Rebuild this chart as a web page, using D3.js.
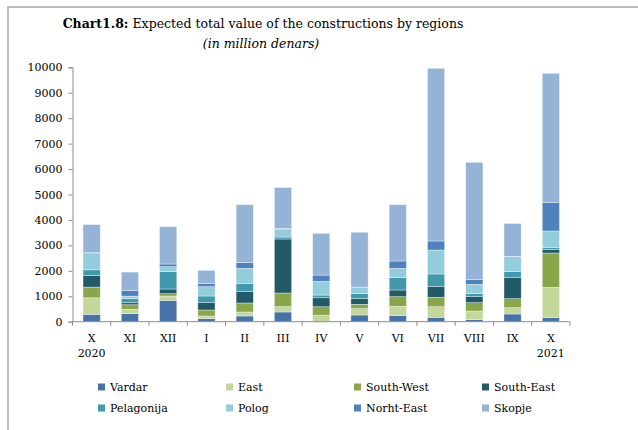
<!DOCTYPE html>
<html>
<meta charset="utf-8">
<style>
  body { margin: 0; background: #fff; }
  text { font-family: "DejaVu Serif", serif; fill: #000; }
</style>
<body>
<script src="https://cdn.jsdelivr.net/npm/d3@7"></script>
<script>
// months on the x axis (year shown under first and last)
var months = ["X", "XI", "XII", "I", "II", "III", "IV", "V", "VI", "VII", "VIII", "IX", "X"];
var years = ["2020", "", "", "", "", "", "", "", "", "", "", "", "2021"];
var regions = ["Vardar", "East", "South-West", "South-East", "Pelagonija", "Polog", "Norht-East", "Skopje"];
var colors = ["#4672a8", "#c4d79b", "#8aa64b", "#225a67", "#4299ae", "#93cddc", "#4f81bd", "#95b3d7"];

// values in million denars
var vardar     = [290, 315, 840, 118, 224, 381, 10, 263, 236, 173, 79, 303, 157];
var east       = [650, 170, 170, 106, 157, 209, 250, 248, 369, 417, 341, 247, 1195];
var southWest  = [420, 180, 90, 236, 354, 538, 327, 173, 378, 369, 327, 354, 1348];
var southEast  = [460, 80, 185, 287, 445, 2123, 353, 220, 263, 417, 236, 826, 146];
var pelagonija = [220, 170, 680, 263, 329, 78, 107, 197, 484, 499, 118, 235, 78];
var polog      = [640, 90, 197, 366, 590, 315, 538, 235, 369, 943, 369, 590, 641];
var northEast  = [40, 225, 106, 118, 220, 20, 248, 20, 287, 354, 181, 10, 1128];
var skopje     = [1100, 720, 1466, 526, 2280, 1612, 1639, 2160, 2213, 6788, 4615, 1297, 5071];
var yTicks = [0, 1000, 2000, 3000, 4000, 5000, 6000, 7000, 8000, 9000, 10000];

var series = [vardar, east, southWest, southEast, pelagonija, polog, northEast, skopje];

var width = 638, height = 430;
var svg = d3.select("body").append("svg")
  .attr("width", width)
  .attr("height", height);

// outer frame
svg.append("rect")
  .attr("x", 8).attr("y", 7)
  .attr("width", 640).attr("height", 440)
  .style("fill", "none")
  .style("stroke", "#a6a6a6")
  .style("stroke-width", 1.5);

// title
var title = svg.append("text")
  .attr("x", 263).attr("y", 28)
  .attr("text-anchor", "middle")
  .style("font-size", "12.5px");
title.append("tspan").style("font-weight", "bold").text("Chart1.8:");
title.append("tspan").text(" Expected total value of the constructions by regions");
svg.append("text")
  .attr("x", 261).attr("y", 48)
  .attr("text-anchor", "middle")
  .style("font-size", "12.5px")
  .style("font-style", "italic")
  .text("(in million denars)");

var plotLeft = 72.5, plotRight = 570, plotTop = 67.3, plotBottom = 321.7;

var x = d3.scaleBand()
  .domain(d3.range(months.length))
  .range([plotLeft, plotRight])
  .paddingInner(0.55)
  .paddingOuter(0.275);

var y = d3.scaleLinear()
  .domain([0, 10000])
  .range([plotBottom, plotTop]);

// stack the table
var table = months.map(function(m, i) {
  var row = { i: i };
  regions.forEach(function(r, k) { row[r] = series[k][i]; });
  return row;
});
var stacked = d3.stack().keys(regions)(table);

svg.append("g")
  .selectAll("g")
  .data(stacked)
  .enter().append("g")
  .style("fill", function(d, k) { return colors[k]; })
  .selectAll("rect")
  .data(function(d) { return d; })
  .enter().append("rect")
  .attr("x", function(d) { return x(d.data.i); })
  .attr("width", x.bandwidth())
  .attr("y", function(d) { return y(d[1]); })
  .attr("height", function(d) { return y(d[0]) - y(d[1]); })
  .style("stroke", "#ffffff")
  .style("stroke-opacity", 0.6)
  .style("stroke-width", 0.6);

// y axis
var yAxis = svg.append("g")
  .attr("transform", "translate(" + plotLeft + ",0)")
  .call(d3.axisLeft(y).tickValues(yTicks).tickSize(4).tickPadding(6).tickFormat(d3.format("d")));
yAxis.select(".domain").style("stroke", "#8c8c8c");
yAxis.selectAll(".tick line").style("stroke", "#8c8c8c");
yAxis.selectAll("text")
  .style("font-family", "DejaVu Serif, serif")
  .style("font-size", "11px");

// x axis line and ticks at band edges
var xAxis = svg.append("g");
xAxis.append("line")
  .attr("x1", plotLeft).attr("x2", plotRight)
  .attr("y1", plotBottom).attr("y2", plotBottom)
  .style("stroke", "#8c8c8c");
var step = x.step();
xAxis.selectAll(".xt")
  .data(d3.range(months.length + 1))
  .enter().append("line")
  .attr("x1", function(d) { return plotLeft + d * step; })
  .attr("x2", function(d) { return plotLeft + d * step; })
  .attr("y1", plotBottom).attr("y2", plotBottom + 4)
  .style("stroke", "#8c8c8c");

xAxis.selectAll(".ml")
  .data(months)
  .enter().append("text")
  .attr("x", function(d, i) { return x(i) + x.bandwidth() / 2; })
  .attr("y", 342)
  .attr("text-anchor", "middle")
  .style("font-size", "11px")
  .text(function(d) { return d; });
xAxis.selectAll(".yl")
  .data(years)
  .enter().append("text")
  .attr("x", function(d, i) { return x(i) + x.bandwidth() / 2; })
  .attr("y", 357)
  .attr("text-anchor", "middle")
  .style("font-size", "11px")
  .text(function(d) { return d; });

// legend, 4 columns x 2 rows
var legend = svg.append("g")
  .selectAll("g")
  .data(regions)
  .enter().append("g")
  .attr("transform", function(d, i) {
    return "translate(" + (98 + (i % 4) * 128) + "," + (i < 4 ? 387 : 408) + ")";
  });
legend.append("rect")
  .attr("x", 0).attr("y", -3.5)
  .attr("width", 7).attr("height", 7)
  .style("fill", function(d, i) { return colors[i]; });
legend.append("text")
  .attr("x", 12).attr("y", 4)
  .style("font-size", "11px")
  .text(function(d) { return d; });
</script>
</body>
</html>
